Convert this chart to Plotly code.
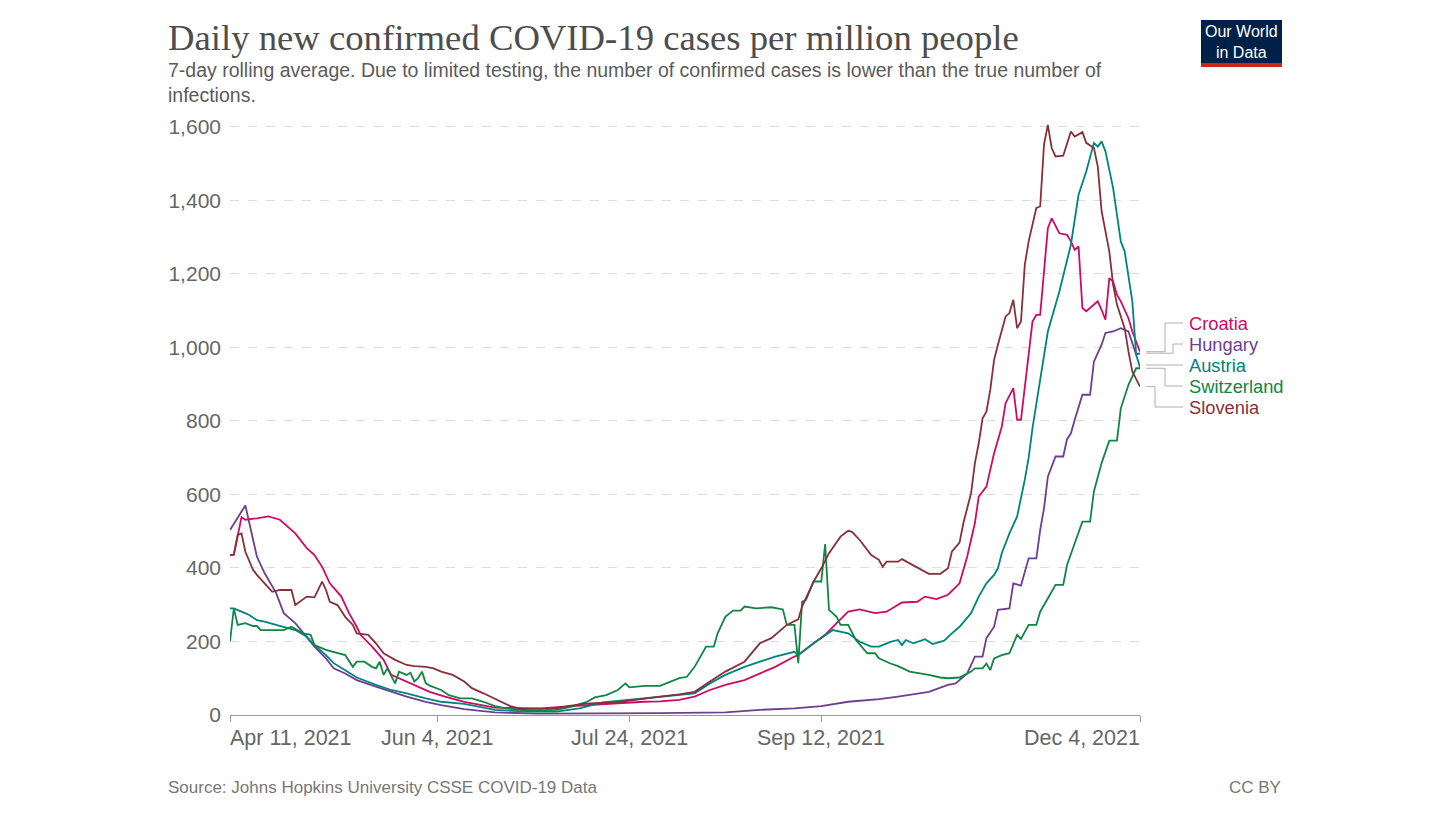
import plotly.graph_objects as go

# ---------------- data ----------------
croatia_dates = ["2021-04-11","2021-04-12","2021-04-14","2021-04-15","2021-04-18","2021-04-21","2021-04-24","2021-04-26","2021-04-28","2021-05-01","2021-05-03","2021-05-05","2021-05-07","2021-05-10","2021-05-12","2021-05-14","2021-05-15","2021-05-18","2021-05-21","2021-05-23","2021-05-27","2021-05-30","2021-06-02","2021-06-06","2021-06-11","2021-06-19","2021-06-26","2021-07-01","2021-07-07","2021-07-13","2021-07-21","2021-07-28","2021-08-01","2021-08-06","2021-08-10","2021-08-14","2021-08-18","2021-08-23","2021-08-27","2021-08-31","2021-09-05","2021-09-06","2021-09-10","2021-09-13","2021-09-16","2021-09-19","2021-09-22","2021-09-26","2021-09-29","2021-10-03","2021-10-07","2021-10-09","2021-10-12","2021-10-15","2021-10-18","2021-10-20","2021-10-22","2021-10-23","2021-10-25","2021-10-27","2021-10-29","2021-10-30","2021-11-01","2021-11-02","2021-11-03","2021-11-05","2021-11-06","2021-11-07","2021-11-08","2021-11-10","2021-11-11","2021-11-13","2021-11-15","2021-11-16","2021-11-17","2021-11-18","2021-11-19","2021-11-20","2021-11-23","2021-11-24","2021-11-25","2021-11-26","2021-11-27","2021-11-28","2021-11-29","2021-12-01","2021-12-02","2021-12-04"]
croatia_values = [435,436,538,531,535,540,531,512,494,454,435,403,358,322,277,240,218,186,150,109,91,77,63,50,36,20,18,18,23,26,32,36,37,41,50,68,82,95,113,131,159,163,195,218,250,281,287,277,281,306,308,322,315,327,358,431,522,594,621,712,784,848,889,803,803,980,1070,1088,1088,1324,1351,1310,1306,1288,1265,1274,1107,1098,1125,1102,1075,1188,1179,1143,1125,1079,1043,988]

hungary_dates = ["2021-04-11","2021-04-13","2021-04-15","2021-04-18","2021-04-20","2021-04-23","2021-04-25","2021-04-28","2021-05-01","2021-05-03","2021-05-06","2021-05-08","2021-05-11","2021-05-14","2021-05-19","2021-05-23","2021-05-27","2021-06-01","2021-06-05","2021-06-11","2021-06-19","2021-06-30","2021-07-20","2021-08-01","2021-08-18","2021-08-27","2021-09-05","2021-09-12","2021-09-19","2021-09-27","2021-10-02","2021-10-10","2021-10-15","2021-10-17","2021-10-20","2021-10-22","2021-10-24","2021-10-25","2021-10-27","2021-10-28","2021-10-31","2021-11-01","2021-11-03","2021-11-05","2021-11-07","2021-11-08","2021-11-09","2021-11-10","2021-11-12","2021-11-14","2021-11-15","2021-11-16","2021-11-17","2021-11-19","2021-11-21","2021-11-22","2021-11-24","2021-11-25","2021-11-27","2021-11-29","2021-12-01","2021-12-03","2021-12-04"]
hungary_values = [503,535,570,431,386,332,277,250,213,186,154,127,113,95,77,63,50,36,27,16,7,4,4,5,7,14,18,24,36,43,50,63,82,86,113,159,159,209,240,286,290,358,352,426,426,503,562,648,703,703,750,766,803,871,871,961,1007,1039,1043,1052,1043,980,984]

austria_dates = ["2021-04-11","2021-04-12","2021-04-14","2021-04-16","2021-04-18","2021-04-20","2021-04-23","2021-04-25","2021-04-28","2021-05-01","2021-05-03","2021-05-06","2021-05-08","2021-05-11","2021-05-14","2021-05-19","2021-05-23","2021-05-27","2021-06-01","2021-06-05","2021-06-11","2021-06-19","2021-06-28","2021-07-05","2021-07-11","2021-07-17","2021-07-24","2021-07-31","2021-08-06","2021-08-10","2021-08-14","2021-08-18","2021-08-23","2021-08-27","2021-08-31","2021-09-05","2021-09-06","2021-09-10","2021-09-15","2021-09-19","2021-09-22","2021-09-25","2021-09-27","2021-09-30","2021-10-02","2021-10-03","2021-10-04","2021-10-06","2021-10-09","2021-10-11","2021-10-14","2021-10-16","2021-10-18","2021-10-21","2021-10-23","2021-10-25","2021-10-27","2021-10-28","2021-10-29","2021-10-31","2021-11-02","2021-11-04","2021-11-05","2021-11-06","2021-11-08","2021-11-10","2021-11-13","2021-11-16","2021-11-18","2021-11-20","2021-11-22","2021-11-23","2021-11-24","2021-11-25","2021-11-27","2021-11-29","2021-11-30","2021-12-02","2021-12-03","2021-12-04"]
austria_values = [290,290,281,272,258,254,245,240,231,213,190,163,141,122,102,82,68,59,45,36,30,14,9,9,18,34,41,50,54,59,86,109,131,145,159,172,163,195,231,222,199,186,186,199,204,190,204,195,206,193,202,222,240,277,322,358,381,399,440,494,540,640,700,780,907,1043,1152,1279,1415,1478,1556,1546,1560,1533,1433,1288,1261,1125,980,945]

switzerland_dates = ["2021-04-11","2021-04-12","2021-04-13","2021-04-15","2021-04-17","2021-04-18","2021-04-19","2021-04-25","2021-04-27","2021-04-30","2021-05-02","2021-05-03","2021-05-06","2021-05-08","2021-05-11","2021-05-13","2021-05-14","2021-05-16","2021-05-18","2021-05-19","2021-05-20","2021-05-21","2021-05-22","2021-05-24","2021-05-25","2021-05-27","2021-05-28","2021-05-29","2021-05-30","2021-05-31","2021-06-01","2021-06-02","2021-06-05","2021-06-07","2021-06-10","2021-06-13","2021-06-16","2021-06-19","2021-06-22","2021-06-28","2021-07-05","2021-07-09","2021-07-13","2021-07-15","2021-07-18","2021-07-21","2021-07-23","2021-07-24","2021-07-28","2021-08-01","2021-08-04","2021-08-06","2021-08-08","2021-08-10","2021-08-13","2021-08-15","2021-08-16","2021-08-18","2021-08-20","2021-08-22","2021-08-23","2021-08-26","2021-08-30","2021-09-02","2021-09-03","2021-09-05","2021-09-06","2021-09-07","2021-09-08","2021-09-10","2021-09-12","2021-09-13","2021-09-14","2021-09-16","2021-09-17","2021-09-19","2021-09-21","2021-09-24","2021-09-26","2021-09-27","2021-09-30","2021-10-02","2021-10-05","2021-10-08","2021-10-10","2021-10-13","2021-10-15","2021-10-18","2021-10-21","2021-10-22","2021-10-24","2021-10-25","2021-10-26","2021-10-27","2021-10-29","2021-10-31","2021-11-02","2021-11-03","2021-11-05","2021-11-07","2021-11-08","2021-11-10","2021-11-12","2021-11-14","2021-11-15","2021-11-17","2021-11-19","2021-11-21","2021-11-22","2021-11-24","2021-11-26","2021-11-28","2021-11-29","2021-12-01","2021-12-03","2021-12-04"]
switzerland_values = [200,290,245,250,242,242,231,231,240,222,218,190,177,172,163,131,145,145,131,127,145,109,127,86,118,109,115,91,100,118,86,80,68,54,45,45,36,24,18,12,14,23,36,48,54,68,86,75,79,79,91,100,104,131,186,186,222,267,284,284,295,290,293,287,245,245,141,308,313,363,363,465,286,267,245,245,204,168,168,154,140,133,118,113,109,102,100,102,118,127,127,140,122,154,163,168,218,207,245,245,281,317,354,354,408,467,526,526,608,685,746,746,834,898,943,943]

slovenia_dates = ["2021-04-11","2021-04-12","2021-04-13","2021-04-14","2021-04-15","2021-04-17","2021-04-18","2021-04-20","2021-04-22","2021-04-24","2021-04-27","2021-04-28","2021-04-30","2021-05-01","2021-05-03","2021-05-05","2021-05-06","2021-05-07","2021-05-09","2021-05-11","2021-05-13","2021-05-14","2021-05-17","2021-05-19","2021-05-21","2021-05-24","2021-05-27","2021-05-29","2021-06-01","2021-06-03","2021-06-05","2021-06-08","2021-06-11","2021-06-13","2021-06-16","2021-06-20","2021-06-23","2021-06-26","2021-07-01","2021-07-05","2021-07-08","2021-07-12","2021-07-15","2021-07-20","2021-07-24","2021-07-28","2021-08-01","2021-08-06","2021-08-10","2021-08-14","2021-08-18","2021-08-23","2021-08-27","2021-08-30","2021-09-03","2021-09-06","2021-09-07","2021-09-10","2021-09-12","2021-09-14","2021-09-17","2021-09-19","2021-09-20","2021-09-22","2021-09-25","2021-09-27","2021-09-28","2021-09-29","2021-10-02","2021-10-03","2021-10-05","2021-10-08","2021-10-10","2021-10-13","2021-10-15","2021-10-16","2021-10-18","2021-10-19","2021-10-21","2021-10-22","2021-10-23","2021-10-24","2021-10-25","2021-10-26","2021-10-27","2021-10-28","2021-10-30","2021-10-31","2021-11-01","2021-11-02","2021-11-03","2021-11-04","2021-11-05","2021-11-07","2021-11-08","2021-11-09","2021-11-10","2021-11-11","2021-11-12","2021-11-14","2021-11-15","2021-11-16","2021-11-17","2021-11-19","2021-11-20","2021-11-22","2021-11-23","2021-11-24","2021-11-26","2021-11-27","2021-11-28","2021-11-30","2021-12-01","2021-12-02","2021-12-04"]
slovenia_values = [435,436,490,494,444,395,381,358,335,340,340,299,313,322,320,363,340,308,299,267,245,222,218,195,168,150,136,133,131,127,118,109,91,73,59,39,24,16,18,18,24,30,32,34,39,45,50,56,63,91,118,145,195,209,245,260,295,363,399,440,485,501,498,476,435,422,403,417,417,424,413,396,384,384,399,444,469,522,603,685,739,807,825,884,966,1007,1084,1093,1129,1052,1070,1225,1288,1379,1383,1551,1605,1542,1519,1521,1551,1587,1573,1585,1556,1542,1492,1370,1261,1170,1116,1052,988,934,893]

countries = ["Croatia", "Hungary", "Austria", "Switzerland", "Slovenia"]
series_dates = [croatia_dates, hungary_dates, austria_dates, switzerland_dates, slovenia_dates]
series_values = [croatia_values, hungary_values, austria_values, switzerland_values, slovenia_values]
colors = ["#CF0A66", "#6D3E91", "#00847E", "#108544", "#883039"]

x_tick_dates = ["2021-04-11", "2021-06-04", "2021-07-24", "2021-09-12", "2021-12-04"]
x_tick_labels = ["Apr 11, 2021", "Jun 4, 2021", "Jul 24, 2021", "Sep 12, 2021", "Dec 4, 2021"]
y_ticks = [0, 200, 400, 600, 800, 1000, 1200, 1400, 1600]

title = "Daily new confirmed COVID-19 cases per million people"
subtitle = ("7-day rolling average. Due to limited testing, the number of confirmed cases is lower than the true number of"
            "<br>infections.")
source = "Source: Johns Hopkins University CSSE COVID-19 Data"

# ---------------- layout geometry (page pixels; the page body has an 8px margin) ----------------
OFF = 8
W, H = 1451 - 2 * OFF, 816 - 2 * OFF
PL, PT, PR, PB = 230, 123, 1140, 715          # plot area in page pixels
Y_MAX = 1610
SANS = "Liberation Sans, Arial, sans-serif"


def px(xp):
    return (xp - PL) / (PR - PL)


def py(yp):
    return (PB - yp) / (PB - PT)


fig = go.Figure()
for name, d, v, c in zip(countries, series_dates, series_values, colors):
    fig.add_trace(go.Scatter(x=d, y=v, mode="lines", name=name,
                             line=dict(color=c, width=1.8), showlegend=False))

annotations = []
shapes = []

# x tick labels
for i, (d, lab) in enumerate(zip(x_tick_dates, x_tick_labels)):
    anchor = "left" if i == 0 else ("right" if i == len(x_tick_dates) - 1 else "center")
    annotations.append(dict(x=d, xref="x", y=py(738), yref="paper", text=lab, showarrow=False,
                            xanchor=anchor, yanchor="middle",
                            xshift=(-2 if i == 0 else (2 if i == len(x_tick_dates) - 1 else 0)),
                            font=dict(family=SANS, size=21.5, color="#666666")))

# end-of-line labels with connectors
label_ys = [323, 344, 365, 386, 407]
elbow_x = [1165, 1173, None, 1165, 1155]
for name, v, c, ly, ex in zip(countries, series_values, colors, label_ys, elbow_x):
    end_val = v[-1]
    y_end_px = PB - end_val * (PB - PT) / Y_MAX
    y0 = py(y_end_px)
    y1 = py(ly)
    x0 = px(1146)
    x2 = px(1183)
    if ex is None:
        shapes.append(dict(type="line", xref="paper", yref="paper", x0=x0, x1=x2, y0=y1, y1=y1,
                           line=dict(color="#b0b0b0", width=1)))
    else:
        xe = px(ex)
        shapes.append(dict(type="path", xref="paper", yref="paper",
                           path=f"M {x0} {y0} L {xe} {y0} L {xe} {y1} L {x2} {y1}",
                           line=dict(color="#b0b0b0", width=1)))
    annotations.append(dict(x=px(1187), xref="paper", y=y1, yref="paper", text=name, showarrow=False,
                            xanchor="left", yanchor="middle",
                            font=dict(family=SANS, size=18.3, color=c)))

# title / subtitle
annotations.append(dict(x=px(166), y=py(37), xref="paper", yref="paper", text=title, showarrow=False,
                        xanchor="left", yanchor="middle",
                        font=dict(family="Liberation Serif, serif", size=36.7, color="#4d4d4d")))
annotations.append(dict(x=px(166), y=py(57), xref="paper", yref="paper", text=subtitle, showarrow=False,
                        xanchor="left", yanchor="top", align="left",
                        font=dict(family=SANS, size=19.5, color="#5b5b5b")))
# source / licence
annotations.append(dict(x=px(166), y=py(787), xref="paper", yref="paper", text=source, showarrow=False,
                        xanchor="left", yanchor="middle",
                        font=dict(family=SANS, size=17, color="#777777")))
annotations.append(dict(x=px(1283), y=py(787), xref="paper", yref="paper", text="CC BY", showarrow=False,
                        xanchor="right", yanchor="middle",
                        font=dict(family=SANS, size=17, color="#777777")))

# logo
shapes.append(dict(type="rect", xref="paper", yref="paper", x0=px(1201), x1=px(1282), y0=py(63), y1=py(20),
                   fillcolor="#002147", line=dict(width=0)))
shapes.append(dict(type="rect", xref="paper", yref="paper", x0=px(1201), x1=px(1282), y0=py(67), y1=py(63),
                   fillcolor="#CE261E", line=dict(width=0)))
annotations.append(dict(x=px(1241.5), y=py(41.5), xref="paper", yref="paper",
                        text="Our World<br>in Data", showarrow=False, xanchor="center", yanchor="middle",
                        align="center", font=dict(family=SANS, size=16, color="white")))

fig.update_layout(
    width=W, height=H,
    margin=dict(l=PL - OFF, r=W - (PR - OFF), t=PT - OFF, b=H - (PB - OFF), pad=0),
    paper_bgcolor="white", plot_bgcolor="white",
    showlegend=False,
    annotations=annotations, shapes=shapes,
    xaxis=dict(type="date", range=[x_tick_dates[0], x_tick_dates[-1]],
               tickvals=x_tick_dates, showticklabels=False, ticks="outside", ticklen=6,
               tickcolor="#999999", showline=True, linecolor="#999999", linewidth=1,
               showgrid=False, zeroline=False, fixedrange=True),
    yaxis=dict(range=[0, Y_MAX], tickvals=y_ticks, tickformat=",", showgrid=True,
               gridcolor="#dcdcdc", griddash="dash", gridwidth=1, zeroline=False,
               ticks="", ticklabelstandoff=8, showline=False,
               tickfont=dict(family=SANS, size=21, color="#666666")),
)

fig.write_html("out.html")
